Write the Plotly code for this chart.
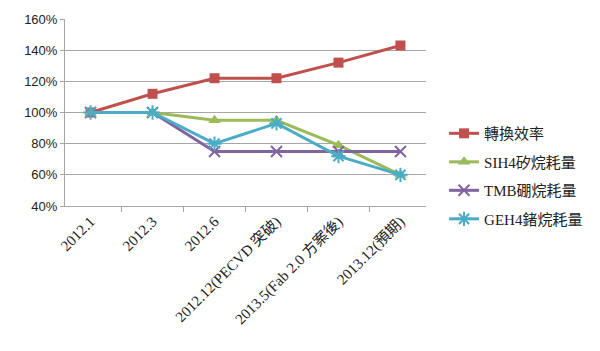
import plotly.graph_objects as go

categories = ["2012.1", "2012.3", "2012.6", "2012.12(PECVD 突破)", "2013.5(Fab 2.0 方案後)", "2013.12(預期)"]
eff = [100, 112, 122, 122, 132, 143]
sih4 = [100, 100, 95, 95, 79, 60]
tmb = [100, 100, 75, 75, 75, 75]
geh4 = [100, 100, 80, 93, 72, 60]
names = ["轉換效率", "SIH4矽烷耗量", "TMB硼烷耗量", "GEH4鍺烷耗量"]
y_ticks = [40, 60, 80, 100, 120, 140, 160]

series = [
    (names[0], eff, "#C0504D", "square", 10, None),
    (names[1], sih4, "#9BBB59", "triangle-up", 11, None),
    (names[2], tmb, "#8064A2", "x-thin", 11, 2),
    (names[3], geh4, "#4BACC6", "asterisk", 12, 2),
]

fig = go.Figure()
for i, (name, vals, color, sym, size, lw) in enumerate(series):
    marker = dict(symbol=sym, size=size, color=color)
    if lw:
        marker["line"] = dict(color=color, width=lw)
    fig.add_trace(go.Scatter(x=categories, y=vals, name=name, mode="lines+markers",
                             legendgroup=f"g{i}",
                             line=dict(color=color, width=3), marker=marker))

fig.update_layout(
    width=600, height=351,
    margin=dict(l=65, r=162, t=16, b=145),
    paper_bgcolor="white", plot_bgcolor="white",
    legend=dict(x=1.05, y=0.16, xanchor="left", yanchor="middle",
                font=dict(family="Liberation Serif, Noto Sans CJK TC", size=15, color="#222"),
                tracegroupgap=6, itemwidth=30),
)
fig.update_yaxes(range=[40, 160], tickvals=y_ticks, ticktext=[f"{v}%" for v in y_ticks],
                 showgrid=True, gridcolor="#A6A6A6", gridwidth=1,
                 showline=True, linecolor="#A6A6A6", ticks="outside", ticklen=4, tickcolor="#A6A6A6",
                 tickfont=dict(family="Liberation Sans", size=13, color="#222"), zeroline=False)
fig.update_xaxes(type="category", tickangle=-45, tickson="boundaries", ticks="outside", ticklen=5,
                 tickcolor="#A6A6A6", showline=True, linecolor="#A6A6A6", showgrid=False,
                 tickfont=dict(family="Liberation Serif, Noto Sans CJK TC", size=15, color="#222"))

fig.write_html("out.html")
